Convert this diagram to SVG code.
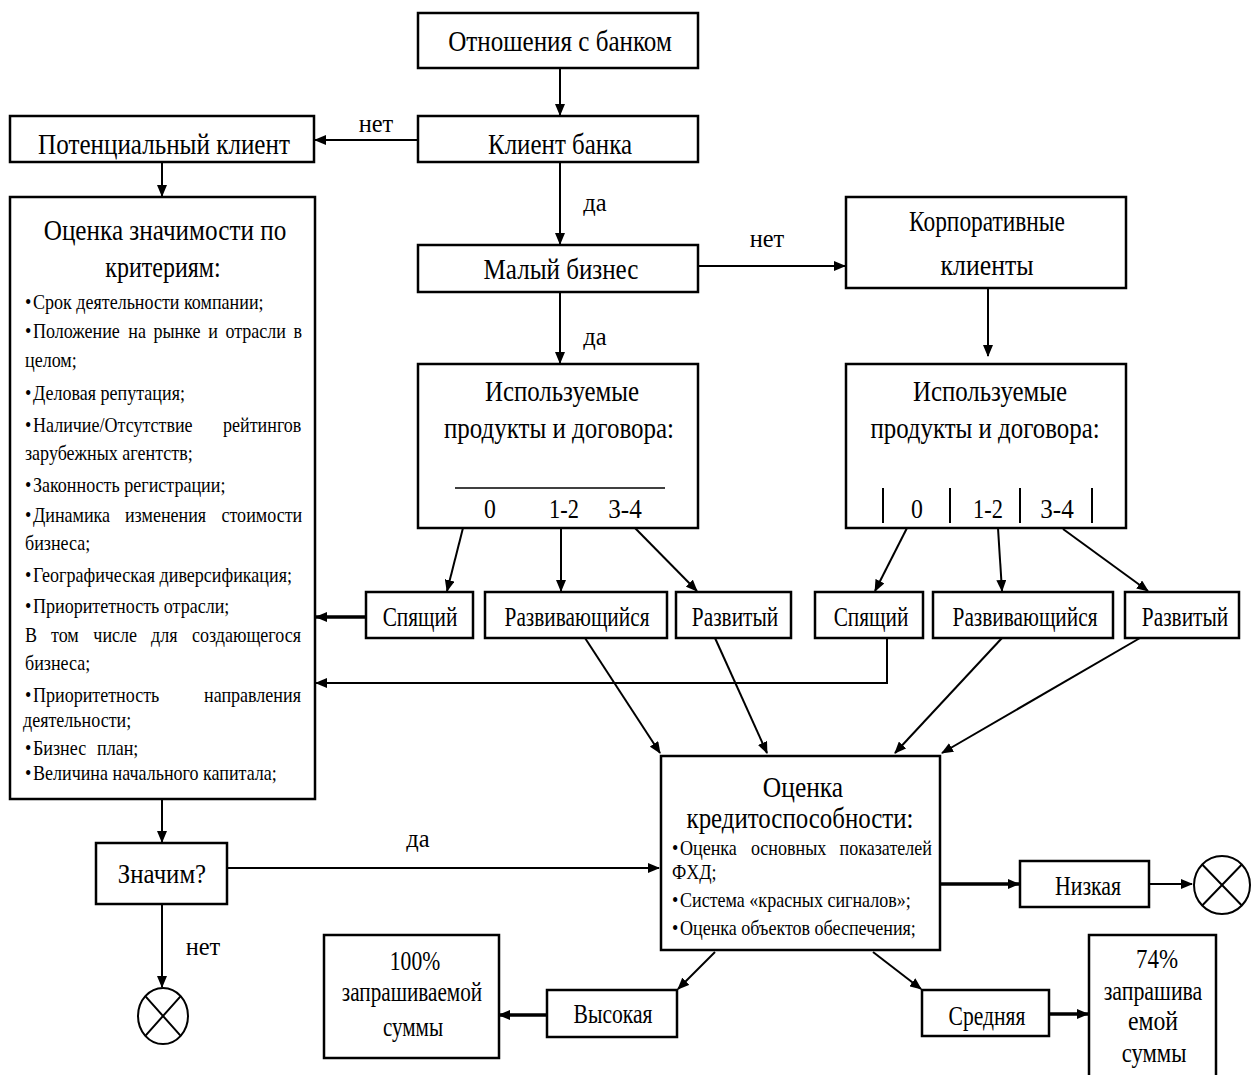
<svg xmlns="http://www.w3.org/2000/svg" width="1254" height="1075" viewBox="0 0 1254 1075">
<style>
.box{fill:#fff;stroke:#000;stroke-width:2.5}
.t{font-family:"Liberation Serif","Times New Roman",serif;font-size:30px;text-anchor:middle;fill:#000}
.m{font-size:27px}
.l{font-size:26px}
.n{font-size:28px}
.s{font-family:"Liberation Serif","Times New Roman",serif;font-size:22px;text-anchor:start;fill:#000}
.q{font-size:20px}
.c{stroke:#000;stroke-width:2;fill:none}
.k{stroke-width:3.5}
.x{stroke:#000;stroke-width:2;fill:#fff}
</style>
<defs>
<marker id="a" markerUnits="userSpaceOnUse" markerWidth="12" markerHeight="10" refX="11" refY="5" orient="auto">
<path d="M0,0 L12,5 L0,10 z" fill="#000"/>
</marker>
</defs>
<rect width="1254" height="1075" fill="#fff"/>

<g id="connectors">
<line class="c" x1="560" y1="68" x2="560" y2="115" marker-end="url(#a)"/>
<line class="c" x1="418" y1="140" x2="315" y2="140" marker-end="url(#a)"/>
<line class="c" x1="162" y1="162" x2="162" y2="196" marker-end="url(#a)"/>
<line class="c" x1="560" y1="162" x2="560" y2="244" marker-end="url(#a)"/>
<line class="c" x1="698" y1="266" x2="845" y2="266" marker-end="url(#a)"/>
<line class="c" x1="560" y1="292" x2="560" y2="363" marker-end="url(#a)"/>
<line class="c" x1="988" y1="288" x2="988" y2="356" marker-end="url(#a)"/>
<line class="c" x1="463" y1="528" x2="447" y2="591" marker-end="url(#a)"/>
<line class="c" x1="561" y1="527" x2="561" y2="591" marker-end="url(#a)"/>
<line class="c" x1="635" y1="528" x2="697" y2="591" marker-end="url(#a)"/>
<line class="c" x1="907" y1="528" x2="875" y2="591" marker-end="url(#a)"/>
<line class="c" x1="998" y1="528" x2="1002" y2="591" marker-end="url(#a)"/>
<line class="c" x1="1063" y1="529" x2="1148" y2="591" marker-end="url(#a)"/>
<line class="c k" x1="366" y1="617" x2="316" y2="617" marker-end="url(#a)"/>
<polyline class="c" points="887,637 887,683 316,683" marker-end="url(#a)"/>
<line class="c" x1="585" y1="638" x2="660" y2="753" marker-end="url(#a)"/>
<line class="c" x1="715" y1="638" x2="767" y2="753" marker-end="url(#a)"/>
<line class="c" x1="1002" y1="638" x2="895" y2="753" marker-end="url(#a)"/>
<line class="c" x1="1140" y1="638" x2="942" y2="753" marker-end="url(#a)"/>
<line class="c" x1="162" y1="799" x2="162" y2="842" marker-end="url(#a)"/>
<line class="c" x1="227" y1="868" x2="659" y2="868" marker-end="url(#a)"/>
<line class="c" x1="162" y1="904" x2="162" y2="987" marker-end="url(#a)"/>
<line class="c k" x1="940" y1="884" x2="1019" y2="884" marker-end="url(#a)"/>
<line class="c" x1="1149" y1="884" x2="1192" y2="884" marker-end="url(#a)"/>
<line class="c" x1="715" y1="952" x2="678" y2="989" marker-end="url(#a)"/>
<line class="c k" x1="547" y1="1015" x2="499" y2="1015" marker-end="url(#a)"/>
<line class="c" x1="873" y1="952" x2="921" y2="989" marker-end="url(#a)"/>
<line class="c k" x1="1049" y1="1014" x2="1088" y2="1014" marker-end="url(#a)"/>
<text class="t l" transform="translate(376,132) scale(0.94,1)">нет</text>
<text class="t l" transform="translate(595,211) scale(0.94,1)">да</text>
<text class="t l" transform="translate(767,247) scale(0.94,1)">нет</text>
<text class="t l" transform="translate(595,345) scale(0.94,1)">да</text>
<text class="t l" transform="translate(418,847) scale(0.94,1)">да</text>
<text class="t l" transform="translate(203,955) scale(0.94,1)">нет</text>
</g>

<g id="n-relations">
<rect class="box" x="418" y="13" width="280" height="55"/>
<text class="t" transform="translate(560,51) scale(0.836,1)">Отношения с банком</text>
</g>
<g id="n-client">
<rect class="box" x="418" y="116" width="280" height="46"/>
<text class="t" transform="translate(560,154) scale(0.832,1)">Клиент банка</text>
</g>
<g id="n-potential">
<rect class="box" x="10" y="116" width="304" height="46"/>
<text class="t" transform="translate(164,154) scale(0.837,1)">Потенциальный клиент</text>
</g>
<g id="n-criteria">
<rect class="box" x="10" y="197" width="305" height="602"/>
<text class="t" transform="translate(165,240) scale(0.84,1)">Оценка значимости по</text>
<text class="t" transform="translate(163,277) scale(0.8,1)">критериям:</text>
<text class="s" transform="translate(0,309) scale(0.82,1)"><tspan x="30.5">•</tspan><tspan x="40.2">Срок деятельности компании;</tspan></text>
<text class="s" transform="translate(0,338) scale(0.82,1)"><tspan x="30.5">•</tspan><tspan x="40.2">Положение</tspan><tspan x="156.5">на</tspan><tspan x="187.1">рынке</tspan><tspan x="254.1">и</tspan><tspan x="274.9">отрасли</tspan><tspan x="357.8">в</tspan></text>
<text class="s" transform="translate(0,367) scale(0.82,1)"><tspan x="30.5">целом;</tspan></text>
<text class="s" transform="translate(0,400) scale(0.82,1)"><tspan x="30.5">•</tspan><tspan x="40.2">Деловая репутация;</tspan></text>
<text class="s" transform="translate(0,432) scale(0.82,1)"><tspan x="30.5">•</tspan><tspan x="40.2">Наличие/Отсутствие</tspan><tspan x="272">рейтингов</tspan></text>
<text class="s" transform="translate(0,460) scale(0.82,1)"><tspan x="30.5">зарубежных агентств;</tspan></text>
<text class="s" transform="translate(0,492) scale(0.82,1)"><tspan x="30.5">•</tspan><tspan x="40.2">Законность регистрации;</tspan></text>
<text class="s" transform="translate(0,522) scale(0.82,1)"><tspan x="30.5">•</tspan><tspan x="40.2">Динамика</tspan><tspan x="152.4">изменения</tspan><tspan x="270.1">стоимости</tspan></text>
<text class="s" transform="translate(0,550) scale(0.82,1)"><tspan x="30.5">бизнеса;</tspan></text>
<text class="s" transform="translate(0,582) scale(0.82,1)"><tspan x="30.5">•</tspan><tspan x="40.2">Географическая диверсификация;</tspan></text>
<text class="s" transform="translate(0,613) scale(0.82,1)"><tspan x="30.5">•</tspan><tspan x="40.2">Приоритетность отрасли;</tspan></text>
<text class="s" transform="translate(0,642) scale(0.82,1)"><tspan x="30.5">В</tspan><tspan x="62.2">том</tspan><tspan x="113.8">числе</tspan><tspan x="184.1">для</tspan><tspan x="234.1">создающегося</tspan></text>
<text class="s" transform="translate(0,670) scale(0.82,1)"><tspan x="30.5">бизнеса;</tspan></text>
<text class="s" transform="translate(0,702) scale(0.82,1)"><tspan x="30.5">•</tspan><tspan x="40.2">Приоритетность</tspan><tspan x="248.8">направления</tspan></text>
<text class="s" transform="translate(0,727) scale(0.82,1)"><tspan x="28">деятельности;</tspan></text>
<text class="s" transform="translate(0,755) scale(0.82,1)"><tspan x="30.5">•</tspan><tspan x="40.2">Бизнес</tspan><tspan x="118.3">план;</tspan></text>
<text class="s" transform="translate(0,780) scale(0.82,1)"><tspan x="30.5">•</tspan><tspan x="40.2">Величина начального капитала;</tspan></text>
</g>
<g id="n-small">
<rect class="box" x="418" y="245" width="280" height="47"/>
<text class="t" transform="translate(561,279) scale(0.836,1)">Малый бизнес</text>
</g>
<g id="n-corporate">
<rect class="box" x="846" y="197" width="280" height="91"/>
<text class="t" transform="translate(987,231) scale(0.78,1)">Корпоративные</text>
<text class="t" transform="translate(987,275) scale(0.86,1)">клиенты</text>
</g>
<g id="n-products-small">
<rect class="box" x="418" y="364" width="280" height="164"/>
<text class="t" transform="translate(562,401) scale(0.83,1)">Используемые</text>
<text class="t" transform="translate(559,438) scale(0.833,1)">продукты и договора:</text>
<line x1="455" y1="488" x2="665" y2="488" stroke="#000" stroke-width="1.5"/>
<text class="t n" transform="translate(490,518) scale(0.85,1)">0</text>
<text class="t n" transform="translate(564,518) scale(0.8,1)">1-2</text>
<text class="t n" transform="translate(625,518) scale(0.9,1)">3-4</text>
</g>
<g id="n-products-corp">
<rect class="box" x="846" y="364" width="280" height="164"/>
<text class="t" transform="translate(990,401) scale(0.83,1)">Используемые</text>
<text class="t" transform="translate(985,438) scale(0.83,1)">продукты и договора:</text>
<path d="M883,488 V523 M950,488 V523 M1020,488 V523 M1092,488 V523" stroke="#000" stroke-width="2"/>
<text class="t n" transform="translate(917,518) scale(0.85,1)">0</text>
<text class="t n" transform="translate(988,518) scale(0.8,1)">1-2</text>
<text class="t n" transform="translate(1057,518) scale(0.9,1)">3-4</text>
</g>
<g id="n-sleep1">
<rect class="box" x="366" y="592" width="107" height="46"/>
<text class="t m" transform="translate(420,626) scale(0.79,1)">Спящий</text>
</g>
<g id="n-dev1">
<rect class="box" x="485" y="592" width="182" height="46"/>
<text class="t m" transform="translate(577,626) scale(0.79,1)">Развивающийся</text>
</g>
<g id="n-mature1">
<rect class="box" x="676" y="592" width="115" height="46"/>
<text class="t m" transform="translate(735,626) scale(0.79,1)">Развитый</text>
</g>
<g id="n-sleep2">
<rect class="box" x="815" y="592" width="108" height="46"/>
<text class="t m" transform="translate(871,626) scale(0.79,1)">Спящий</text>
</g>
<g id="n-dev2">
<rect class="box" x="933" y="592" width="180" height="46"/>
<text class="t m" transform="translate(1025,626) scale(0.79,1)">Развивающийся</text>
</g>
<g id="n-mature2">
<rect class="box" x="1125" y="592" width="114" height="46"/>
<text class="t m" transform="translate(1185,626) scale(0.79,1)">Развитый</text>
</g>
<g id="n-credit">
<rect class="box" x="661" y="756" width="279" height="194"/>
<text class="t" transform="translate(803,797) scale(0.85,1)">Оценка</text>
<text class="t" transform="translate(800,828) scale(0.83,1)">кредитоспособности:</text>
<text class="s q" transform="translate(0,855) scale(0.902,1)"><tspan x="745">•</tspan><tspan x="753.9">Оценка</tspan><tspan x="832.5">основных</tspan><tspan x="930.8">показателей</tspan></text>
<text class="s q" transform="translate(0,879) scale(0.902,1)"><tspan x="745">ФХД;</tspan></text>
<text class="s q" transform="translate(0,907) scale(0.902,1)"><tspan x="745">•</tspan><tspan x="753.9">Система «красных сигналов»;</tspan></text>
<text class="s q" transform="translate(0,935) scale(0.902,1)"><tspan x="745">•</tspan><tspan x="753.9">Оценка объектов обеспечения;</tspan></text>
</g>
<g id="n-significant">
<rect class="box" x="96" y="843" width="131" height="61"/>
<text class="t m" transform="translate(162,883) scale(0.92,1)">Значим?</text>
</g>
<g id="n-stop1">
<ellipse class="x" cx="163" cy="1016" rx="25" ry="28"/>
<path d="M145.3,996.2 L180.7,1035.8 M180.7,996.2 L145.3,1035.8" stroke="#000" stroke-width="2"/>
</g>
<g id="n-low">
<rect class="box" x="1020" y="861" width="129" height="46"/>
<text class="t m" transform="translate(1088,895) scale(0.81,1)">Низкая</text>
</g>
<g id="n-stop2">
<ellipse class="x" cx="1222" cy="885" rx="28" ry="29"/>
<path d="M1202.2,864.5 L1241.8,905.5 M1241.8,864.5 L1202.2,905.5" stroke="#000" stroke-width="2"/>
</g>
<g id="n-100">
<rect class="box" x="324" y="935" width="175" height="123"/>
<text class="t m" transform="translate(415,970) scale(0.8,1)">100%</text>
<text class="t m" transform="translate(412,1001) scale(0.785,1)">запрашиваемой</text>
<text class="t m" transform="translate(413,1036) scale(0.78,1)">суммы</text>
</g>
<g id="n-high">
<rect class="box" x="547" y="990" width="130" height="47"/>
<text class="t m" transform="translate(613,1023) scale(0.8,1)">Высокая</text>
</g>
<g id="n-medium">
<rect class="box" x="922" y="990" width="127" height="46"/>
<text class="t m" transform="translate(987,1025) scale(0.8,1)">Средняя</text>
</g>
<g id="n-74">
<rect class="box" x="1089" y="935" width="127" height="145"/>
<text class="t m" transform="translate(1157,968) scale(0.85,1)">74%</text>
<text class="t m" transform="translate(1153,1000) scale(0.81,1)">запрашива</text>
<text class="t m" transform="translate(1153,1030) scale(0.88,1)">емой</text>
<text class="t m" transform="translate(1154,1062) scale(0.84,1)">суммы</text>
</g>
</svg>
